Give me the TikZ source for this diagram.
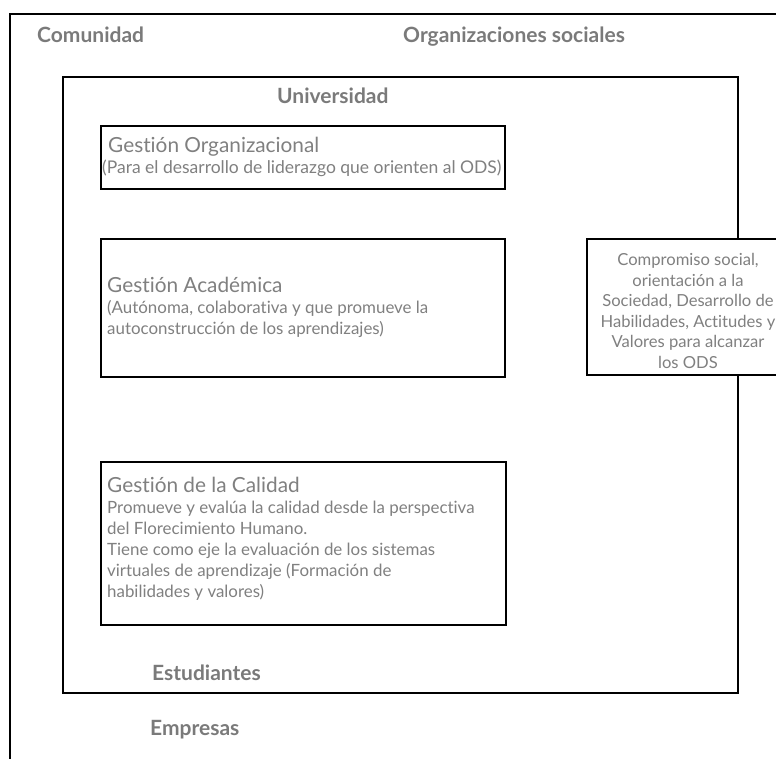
\documentclass[tikz,border=0pt]{standalone}
\usepackage{fontspec}
\setmainfont{Lato}[Ligatures={NoCommon,NoRare}]
\definecolor{labelgray}{HTML}{7A7A7A}
\definecolor{textgray}{HTML}{808080}
\newcommand{\headfont}{\fontsize{20.8}{21}\selectfont}
\tikzset{
  frame/.style={draw=black, line width=2pt},
  box/.style={draw=black, line width=2pt, fill=white, anchor=north west, inner sep=0pt},
  lbl/.style={text=labelgray, font=\bfseries\fontsize{21}{24}\selectfont, anchor=base west, inner sep=0pt},
  body/.style={text=textgray, font=\fontsize{16.9}{21}\selectfont, align=left, anchor=north west, inner sep=0pt},
  side/.style={text=textgray, font=\fontsize{16.6}{20.6}\selectfont, align=center, anchor=north, inner sep=0pt}
}
\begin{document}
\begin{tikzpicture}[x=1pt,y=-1pt]
\useasboundingbox (0,0) rectangle (776,758);
\clip (0,0) rectangle (776,758);
% outer frame (Comunidad)
\node[frame, anchor=north west, minimum width=800pt, minimum height=780pt, inner sep=0pt] (outer) at (9,13) {};
% inner frame (Universidad)
\node[frame, anchor=north west, minimum width=675pt, minimum height=616pt, inner sep=0pt] (univ) at (62,76) {};
% labels
\node[lbl] (comunidad) at (37,42) {Comunidad};
\node[lbl] (orgsoc) at (403,42) {Organizaciones sociales};
\node[lbl] (universidad) at (277,103) {Universidad};
\node[lbl] (estudiantes) at (152,680) {Estudiantes};
\node[lbl] (empresas) at (150,735) {Empresas};
% boxes
\node[box, minimum width=404pt, minimum height=63pt] (org) at (100,125) {};
\node[box, minimum width=404pt, minimum height=138pt] (acad) at (100,238) {};
\node[box, minimum width=405pt, minimum height=163pt] (cal) at (100,461) {};
\node[box, minimum width=204pt, minimum height=136pt] (comp) at (586,238) {};
% texts
\node[body] (orgtxt) at (102,136.5) {\hspace*{6pt}{\headfont Gestión Organizacional}\\{\fontsize{17.5}{21}\selectfont (Para el desarrollo de liderazgo que orienten al ODS)}};
\node[body] (acadtxt) at (107,276.5) {{\headfont Gestión Académica}\\(Autónoma, colaborativa y que promueve la\\autoconstrucción de los aprendizajes)};
\node[body] (caltxt) at (107,476.5) {{\headfont Gestión de la Calidad}\\Promueve y evalúa la calidad desde la perspectiva\\del Florecimiento Humano.\\Tiene como eje la evaluación de los sistemas\\virtuales de aprendizaje (Formación de\\habilidades y valores)};
\node[side] (comptxt) at (688,253) {Compromiso social,\\orientación a la\\Sociedad, Desarrollo de\\Habilidades, Actitudes y\\Valores para alcanzar\\los ODS};
\end{tikzpicture}
\end{document}
